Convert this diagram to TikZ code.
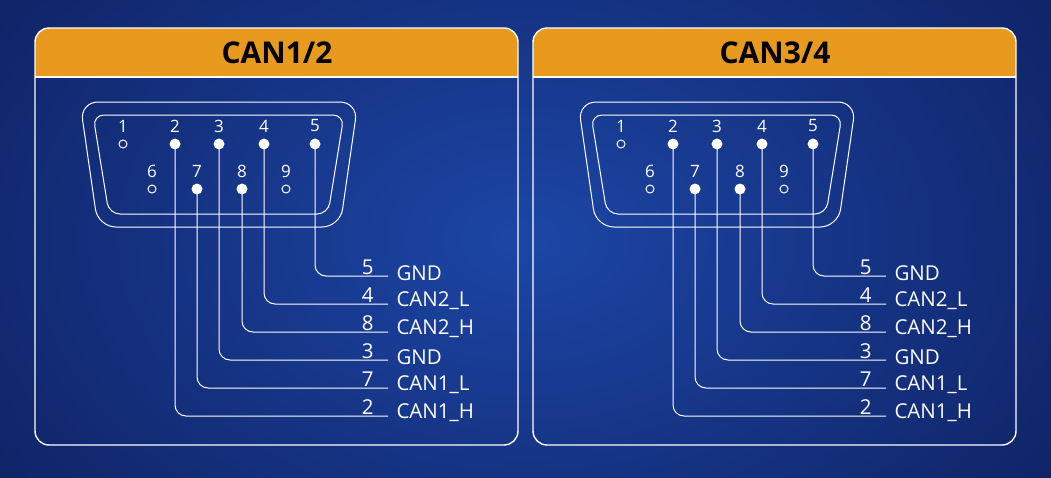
\documentclass[tikz,border=0pt]{standalone}
\usepackage{fontspec}
\setmainfont{Open Sans}
\definecolor{bgA}{HTML}{1C46A6}
\definecolor{bgB}{HTML}{0E1F5E}
\definecolor{hdr}{HTML}{E89A1F}
\tikzset{
  panel/.style={draw=white,line width=1.4pt,rounded corners=14pt},
  hole/.style={circle,draw=white,line width=1pt,inner sep=0pt,minimum size=8pt},
  pin/.style={circle,fill=white,inner sep=0pt,minimum size=11pt},
  num/.style={text=white,font=\fontsize{17}{17}\selectfont},
  wire/.style={draw=white,line width=1pt,rounded corners=11pt},
  lab/.style={text=white,font=\fontsize{20.5}{20.5}\selectfont,anchor=west},
  dig/.style={text=white,font=\fontsize{20.5}{20.5}\selectfont,anchor=base east},
}
\newcommand\canpanel[2]{%
\begin{scope}[xshift=#1pt]
  \fill[hdr,rounded corners=14pt] (35,77) -- (35,28) -- (518,28) -- (518,77) -- cycle;
  \fill[hdr] (35,60) rectangle (518,77);
  \draw[panel] (35,28) rectangle (518,445);
  \draw[white,line width=1.4pt] (35,77) -- (518,77);
  \node[font=\bfseries\fontsize{30}{30}\selectfont,text=black] (t#1) at (277,53) {#2};
  \draw[white,line width=1pt,rounded corners=18pt] (80,102) -- (358,102) -- (340,227) -- (98,227) -- cycle;
  \draw[white,line width=1pt,rounded corners=11pt] (93,115) -- (344,115) -- (328,214) -- (109,214) -- cycle;
  \foreach \n/\x in {1/123,6/152,9/286}{
    \node[hole] (p#1-\n) at (\x,\ifnum\n=1 144\else 189\fi) {};
  }
  \foreach \n/\x in {2/175,3/219,4/264,5/315}{\node[pin] (p#1-\n) at (\x,144) {};}
  \foreach \n/\x in {7/197,8/242}{\node[pin] (p#1-\n) at (\x,189) {};}
  \foreach \n/\x in {1/123,2/175,3/219,4/264,5/315}{\node[num] at (\x,126) {\n};}
  \foreach \n/\x in {6/152,7/197,8/242,9/286}{\node[num] at (\x,171) {\n};}
  \foreach \n/\y/\t in {5/276/GND,4/304/CAN2\_L,8/332/CAN2\_H,3/360/GND,7/388/CAN1\_L,2/416/CAN1\_H}{
    \coordinate (e#1-\n) at (388,\y);
    \draw[wire] (p#1-\n.center) |- (e#1-\n);
    \node[dig] at (377,\y-2) {\n};
    \node[lab] (l#1-\n) at (393,\y-3) {\t};
  }
\end{scope}}
\begin{document}
\begin{tikzpicture}[x=1pt,y=-1pt]
\useasboundingbox (0,0) rectangle (1051,477);
\shade[inner color=bgA,outer color=bgB] (-200,-250) rectangle (1251,727);
\canpanel{0}{CAN1/2}
\canpanel{498}{CAN3/4}
\end{tikzpicture}
\end{document}
